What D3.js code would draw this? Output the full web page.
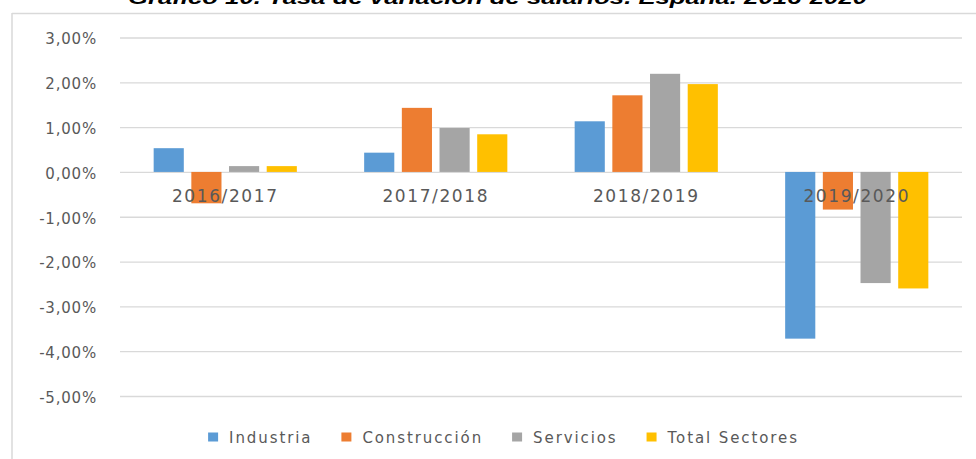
<!DOCTYPE html>
<html>
<head>
<meta charset="utf-8">
<script src="https://cdn.jsdelivr.net/npm/d3@7"></script>
<style>
	body { margin: 0; background: #fff; }
	svg { display: block; }
	text { font-family: "DejaVu Sans", sans-serif; fill: #595959; }
</style>
</head>
<body>
<div id="chart"></div>
<script>

	// data
	var categories = ["2016/2017", "2017/2018", "2018/2019", "2019/2020"];
	var series = ["Industria", "Construcción", "Servicios", "Total Sectores"];
	var industria = [0.53, 0.43, 1.13, -3.72];
	var construccion = [-0.70, 1.43, 1.71, -0.84];
	var servicios = [0.13, 0.98, 2.19, -2.48];
	var totalSectores = [0.13, 0.84, 1.96, -2.60];
	var yTicks = [3, 2, 1, 0, -1, -2, -3, -4, -5];
	var colors = ["#5B9BD5", "#ED7D31", "#A5A5A5", "#FFC000"];
	var titleText = "Gráfico 10. Tasa de variación de salarios. España. 2016-2020";

	var values = [industria, construccion, servicios, totalSectores];

	var width = 976, height = 459;

	var svg = d3.select("#chart").append("svg")
		.attr("width", width)
		.attr("height", height);

	// chart frame (only top and left show in the window)
	svg.append("line").attr("x1", 12).attr("x2", width).attr("y1", 13.5).attr("y2", 13.5)
		.style("stroke", "#d9d9d9").style("stroke-width", 1.5);
	svg.append("line").attr("x1", 12).attr("x2", 12).attr("y1", 13).attr("y2", height)
		.style("stroke", "#d9d9d9").style("stroke-width", 1.5);

	// title, mostly cut off at the top
	svg.append("text")
		.attr("x", 128).attr("y", 4)
		.attr("textLength", 739).attr("lengthAdjust", "spacingAndGlyphs")
		.style("font-family", "Liberation Sans, Arial, sans-serif")
		.style("font-weight", "bold").style("font-style", "italic")
		.style("font-size", "19px").style("fill", "#000")
		.text(titleText);

	// plot box (window.top is taken, so no bare "top")
	var plotLeft = 120, plotRight = 962, plotTop = 37.5, plotBottom = 396;

	var y = d3.scaleLinear().domain([-5, 3]).range([plotBottom, plotTop]);

	var x0 = d3.scaleBand().domain(categories).range([plotLeft, plotRight])
		.paddingInner(0.284).paddingOuter(0.142);

	var x1 = d3.scaleBand().domain(series).range([0, x0.bandwidth()])
		.paddingInner(0.2).paddingOuter(0.1);

	// gridlines + y labels
	var yAxis = d3.axisLeft(y).tickValues(yTicks)
		.tickSize(-(plotRight - plotLeft))
		.tickPadding(23)
		.tickFormat(function(d){ return d3.format(".2f")(d).replace(".", ",").replace("−", "-") + "%"; });

	var yg = svg.append("g").attr("transform", "translate(" + plotLeft + ",0)").call(yAxis);
	yg.select(".domain").remove();
	yg.selectAll(".tick line").style("stroke", "#d9d9d9").style("stroke-width", 1.3);
	yg.selectAll(".tick text")
		.attr("dy", "0.42em")
		.style("font-size", "15px")
		.style("letter-spacing", "0.8px")
		.style("fill", "#595959");

	// bars
	var groups = svg.append("g").attr("class", "bars")
		.selectAll("g").data(categories).enter().append("g")
		.attr("transform", function(d){ return "translate(" + x0(d) + ",0)"; });

	groups.selectAll("rect")
		.data(function(d, i){
			return series.map(function(s, j){ return { s: s, j: j, v: values[j][i] }; });
		})
		.enter().append("rect")
		.attr("x", function(d){ return x1(d.s); })
		.attr("width", x1.bandwidth())
		.attr("y", function(d){ return Math.min(y(d.v), y(0)); })
		.attr("height", function(d){ return Math.abs(y(d.v) - y(0)); })
		.style("fill", function(d){ return colors[d.j]; });

	// category labels sit right under the zero line, over the bars
	var xAxis = d3.axisBottom(x0).tickSize(0).tickPadding(0);
	var xg = svg.append("g").attr("transform", "translate(0," + y(0) + ")").call(xAxis);
	xg.select(".domain").remove();
	xg.selectAll(".tick text")
		.attr("y", 30).attr("dy", 0)
		.style("font-size", "17px")
		.style("letter-spacing", "1.6px")
		.style("fill", "#595959");

	// legend
	var legend = svg.append("g").attr("class", "legend");
	var lx = 0;
	series.forEach(function(s, i){
		var item = legend.append("g").attr("transform", "translate(" + lx + ",0)");
		item.append("rect").attr("x", 0).attr("y", -10).attr("width", 10).attr("height", 9)
			.style("fill", colors[i]);
		var t = item.append("text").attr("x", 21).attr("y", 0)
			.style("font-size", "15px")
			.style("letter-spacing", "1.9px")
			.text(s);
		lx += 21 + t.node().getComputedTextLength() + 29;
	});
	var legendWidth = lx - 29;
	legend.attr("transform", "translate(" + (503.5 - legendWidth / 2) + ",442.5)");

</script>
</body>
</html>
